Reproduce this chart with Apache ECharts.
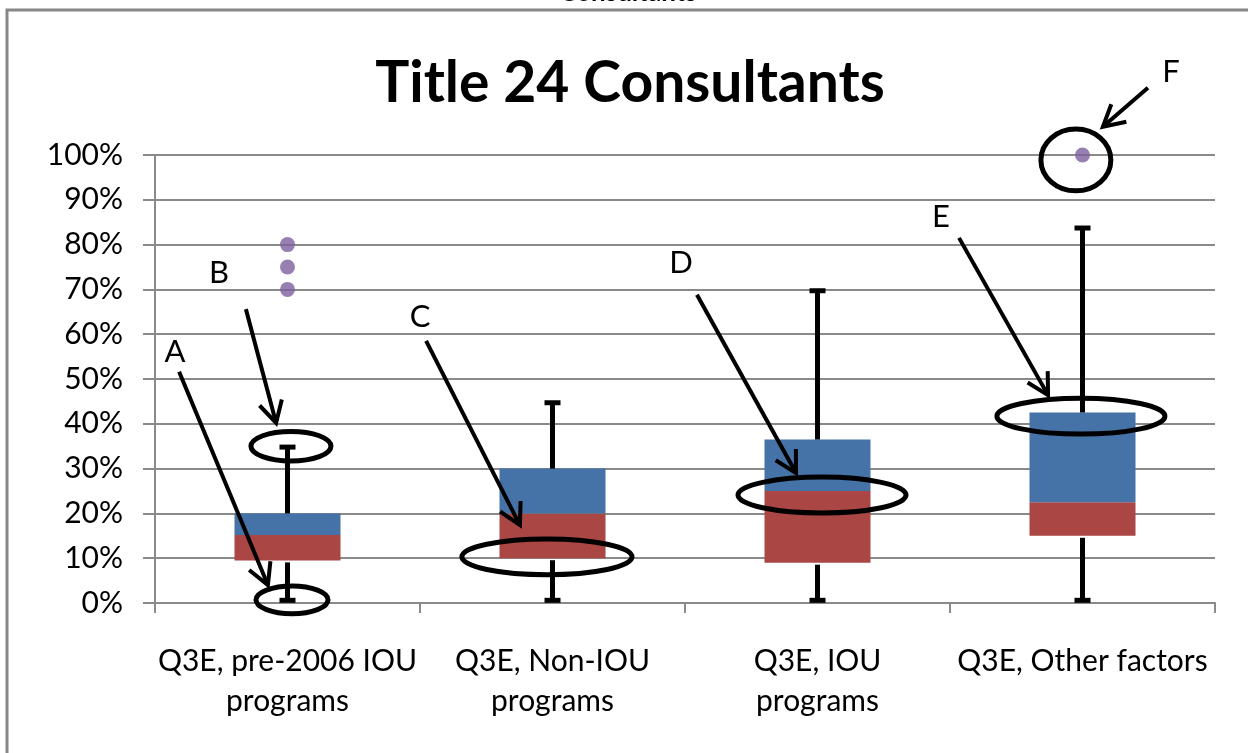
<!DOCTYPE html>
<html>
<head>
<meta charset="utf-8">
<title>Title 24 Consultants</title>
<script src="https://cdn.jsdelivr.net/npm/echarts@6/dist/echarts.min.js"></script>
<style>
  html, body { margin: 0; padding: 0; background: #fff; }
  #main { width: 1248px; height: 753px; }
</style>
</head>
<body>
<div id="main"></div>
<script>
// box plot data (share of respondents)
const categories = ['Q3E, pre-2006 IOU\nprograms', 'Q3E, Non-IOU\nprograms', 'Q3E, IOU\nprograms', 'Q3E, Other factors'];
const minVals = [0.006, 0.006, 0.006, 0.006];
const q1Vals = [0.095, 0.10, 0.09, 0.15];
const medVals = [0.152, 0.20, 0.25, 0.225];
const q3Vals = [0.20, 0.30, 0.365, 0.425];
const maxVals = [0.348, 0.447, 0.697, 0.837];
const outliers = [[0, 0.80], [0, 0.75], [0, 0.70], [3, 1.00]];

// callouts, in axis units: [category position, value]
const calloutNames = ['A', 'B', 'C', 'D', 'E', 'F'];
const calloutLabels = [[-0.425, 0.560], [-0.258, 0.737], [0.5, 0.638], [1.485, 0.759], [2.466, 0.862], [3.334, 1.185]];
const calloutFrom = [[-0.409, 0.516], [-0.157, 0.656], [0.523, 0.585], [1.545, 0.688], [2.534, 0.815], [3.247, 1.150]];
const calloutTo = [[-0.074, 0.040], [-0.043, 0.402], [0.877, 0.174], [1.919, 0.290], [2.870, 0.464], [3.077, 1.063]];
const ellipseCenters = [[0.017, 0.007], [0.013, 0.350], [0.979, 0.103], [2.017, 0.241], [2.994, 0.417], [2.975, 0.989]];
const ellipseRadii = [[0.136, 0.031], [0.151, 0.033], [0.321, 0.040], [0.317, 0.040], [0.317, 0.040], [0.132, 0.069]];

const FONT = 'Lato, "Open Sans", sans-serif';
const GRID_COLOR = '#8a8a8a';

const chart = echarts.init(document.getElementById('main'));

const lowerPart = q1Vals.map((q, i) => +(medVals[i] - q).toFixed(4));
const upperPart = medVals.map((m, i) => +(q3Vals[i] - m).toFixed(4));
const whiskerData = categories.map((c, i) => [i, minVals[i], q1Vals[i], q3Vals[i], maxVals[i]]);

const option = {
  animation: false,
  grid: { left: 155, right: 33, top: 155, bottom: 150 },
  xAxis: {
    type: 'category',
    data: categories,
    axisLine: { lineStyle: { color: GRID_COLOR, width: 2 } },
    axisTick: { show: true, length: 10, lineStyle: { color: GRID_COLOR, width: 2 } },
    axisLabel: { color: '#000', fontFamily: FONT, fontSize: 30, lineHeight: 40, margin: 38, interval: 0 },
  },
  yAxis: {
    type: 'value',
    min: 0,
    max: 1,
    interval: 0.1,
    axisLine: { show: true, lineStyle: { color: GRID_COLOR, width: 2 } },
    axisTick: { show: true, length: 12, lineStyle: { color: GRID_COLOR, width: 2 } },
    splitLine: { lineStyle: { color: GRID_COLOR, width: 2 } },
    axisLabel: {
      color: '#000', fontFamily: FONT, fontSize: 30, margin: 32,
      formatter: (v) => Math.round(v * 100) + '%',
    },
  },
  series: [
    {
      name: 'base', type: 'bar', stack: 'box', barWidth: '40%',
      itemStyle: { color: 'transparent' },
      data: q1Vals,
    },
    {
      name: 'Q1 to median', type: 'bar', stack: 'box',
      itemStyle: { color: '#AA4643' },
      data: lowerPart,
    },
    {
      name: 'median to Q3', type: 'bar', stack: 'box',
      itemStyle: { color: '#4572A7' },
      data: upperPart,
    },
    {
      name: 'whiskers', type: 'custom', z: 5,
      renderItem: (params, api) => {
        const x = api.value(0);
        const pMin = api.coord([x, api.value(1)]);
        const pQ1 = api.coord([x, api.value(2)]);
        const pQ3 = api.coord([x, api.value(3)]);
        const pMax = api.coord([x, api.value(4)]);
        const st = { stroke: '#000', lineWidth: 5 };
        return {
          type: 'group',
          children: [
            { type: 'line', shape: { x1: pQ3[0], y1: pQ3[1], x2: pMax[0], y2: pMax[1] }, style: st },
            { type: 'line', shape: { x1: pQ1[0], y1: pQ1[1] + 2, x2: pMin[0], y2: pMin[1] }, style: st },
            { type: 'rect', shape: { x: pMax[0] - 8, y: pMax[1] - 2.5, width: 16, height: 5 }, style: { fill: '#000' } },
            { type: 'rect', shape: { x: pMin[0] - 8, y: pMin[1] - 2.5, width: 16, height: 5 }, style: { fill: '#000' } },
          ],
        };
      },
      data: whiskerData,
    },
    {
      name: 'outliers', type: 'scatter', symbolSize: 15, z: 6,
      itemStyle: { color: '#7C5F9E' },
      data: outliers,
    },
  ],
};

chart.setOption(option);

// convert [category position, value] to pixels, fractional positions allowed
function toPx(p) {
  const a = chart.convertToPixel({ xAxisIndex: 0 }, 0);
  const b = chart.convertToPixel({ xAxisIndex: 0 }, 1);
  const y = chart.convertToPixel({ yAxisIndex: 0 }, p[1]);
  return [a + (b - a) * p[0], y];
}

function bandPx(r) {
  const a = chart.convertToPixel({ xAxisIndex: 0 }, 0);
  const b = chart.convertToPixel({ xAxisIndex: 0 }, 1);
  const y0 = chart.convertToPixel({ yAxisIndex: 0 }, 0);
  const y1 = chart.convertToPixel({ yAxisIndex: 0 }, r[1]);
  return [(b - a) * r[0], y0 - y1];
}

const graphics = [
  // chart frame
  {
    type: 'polyline', silent: true,
    shape: { points: [[7, 800], [7, 10], [1260, 10]] },
    style: { stroke: '#878787', lineWidth: 3, fill: null },
  },
  // clipped title of the sheet above the chart
  {
    type: 'text', x: 628, y: 6, silent: true,
    style: { text: 'Consultants', font: 'bold 26px ' + FONT, fill: '#000', align: 'center', verticalAlign: 'bottom' },
  },
  {
    type: 'text', x: 630, y: 84, silent: true,
    style: { text: 'Title 24 Consultants', font: 'bold 57px ' + FONT, fill: '#000', align: 'center', verticalAlign: 'middle' },
  },
];

calloutNames.forEach((name, i) => {
  const lp = toPx(calloutLabels[i]);
  const p1 = toPx(calloutFrom[i]);
  const p2 = toPx(calloutTo[i]);
  const c = toPx(ellipseCenters[i]);
  const r = bandPx(ellipseRadii[i]);
  const ang = Math.atan2(p2[1] - p1[1], p2[0] - p1[0]);
  const head = 24, spread = 0.5;
  const w1 = [p2[0] - head * Math.cos(ang - spread), p2[1] - head * Math.sin(ang - spread)];
  const w2 = [p2[0] - head * Math.cos(ang + spread), p2[1] - head * Math.sin(ang + spread)];
  graphics.push(
    {
      type: 'text', x: lp[0], y: lp[1], silent: true, z: 10,
      style: { text: name, font: '31px ' + FONT, fill: '#000', align: 'center', verticalAlign: 'middle' },
    },
    {
      type: 'line', silent: true, z: 10,
      shape: { x1: p1[0], y1: p1[1], x2: p2[0], y2: p2[1] },
      style: { stroke: '#000', lineWidth: 4 },
    },
    {
      type: 'polyline', silent: true, z: 10,
      shape: { points: [w1, p2, w2] },
      style: { stroke: '#000', lineWidth: 4, fill: null },
    },
    {
      type: 'ellipse', silent: true, z: 10,
      shape: { cx: c[0], cy: c[1], rx: r[0], ry: r[1] },
      style: { stroke: '#000', lineWidth: 5, fill: null },
    }
  );
});

chart.setOption({ graphic: graphics });

window.onresize = () => {
  chart.resize();
};
</script>
</body>
</html>
